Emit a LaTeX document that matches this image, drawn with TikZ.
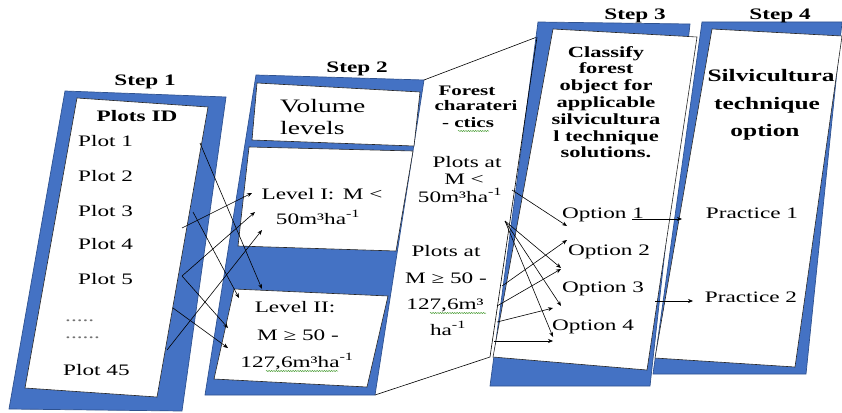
\documentclass[tikz,border=0pt]{standalone}
\usepackage{fontspec}
\setmainfont{Liberation Serif}[FakeStretch=1.45]
\usetikzlibrary{arrows.meta,decorations.pathmorphing}
\definecolor{stepblue}{RGB}{68,114,196}
\definecolor{stepedge}{RGB}{47,82,143}
\definecolor{spellgreen}{RGB}{80,160,60}

\begin{document}
\begin{tikzpicture}[x=1pt,y=-1pt,
    panel/.style={fill=stepblue,draw=stepedge,line width=0.7pt},
    sheet/.style={fill=white,draw=black!85,line width=0.6pt},
    head/.style={font=\fontsize{16}{18}\selectfont\bfseries,inner sep=0pt,anchor=base},
    item/.style={font=\fontsize{16}{18}\selectfont,inner sep=0pt,anchor=base},
    link/.style={-{Stealth[length=5pt,width=4pt]},line width=0.6pt},
    spell/.style={draw=spellgreen,line width=0.5pt,decorate,
      decoration={snake,amplitude=0.6pt,segment length=2.4pt}}]
\useasboundingbox (0,0) rectangle (842,412);

% step 1
\draw[panel] (65,91) -- (226,97) -- (182,411) -- (9,409) -- cycle;
\draw[sheet] (77,98) -- (208,107) -- (157,397) -- (25,388) -- cycle;
% step 2
\draw[panel] (256,75) -- (424,80) -- (375,395) -- (205,395) -- cycle;
\draw[sheet] (257,83) -- (420,92) -- (414,146) -- (252,140) -- cycle;
\draw[sheet] (249,147) -- (413,151) -- (396,251) -- (238,246) -- cycle;
\draw[sheet] (234,289) -- (388,296) -- (367,387) -- (214,379) -- cycle;
% zoom lines to step 3
\coordinate (s2tr) at (424,80);
\coordinate (s2br) at (375,395);
\coordinate (s3tl) at (537,37);
\coordinate (s3bl) at (490,357);
\draw[line width=0.6pt] (s2tr) -- (s3tl);
\draw[line width=0.6pt] (s2br) -- (s3bl);
% step 4
\draw[panel] (702,22) -- (842,22) -- (806,374) -- (653,374) -- cycle;
\draw[sheet] (712,29) -- (842,36) -- (795,367) -- (655,358) -- cycle;
% step 3
\draw[panel] (538,22) -- (690,24) -- (650,386) -- (490,386) -- cycle;
\draw[sheet] (553,29) -- (697,37) -- (647,370) -- (493,357) -- cycle;
\draw[line width=0.6pt] (s3tl) -- (s3bl);

% step labels
\node[head] (step1) at (145,85) {Step 1};
\node[head] (step2) at (357,72) {Step 2};
\node[head] (step3) at (635,20) {Step 3};
\node[head] (step4) at (780,20) {Step 4};

% plots
\node[head] (plotsid) at (137,121) {Plots ID};
\node[item,anchor=base west] (plot1) at (78,146) {Plot 1};
\node[item,anchor=base west] (plot2) at (78,181) {Plot 2};
\node[item,anchor=base west] (plot3) at (78,216) {Plot 3};
\node[item,anchor=base west] (plot4) at (78,249) {Plot 4};
\node[item,anchor=base west] (plot5) at (78,284) {Plot 5};
\node[item,anchor=base west,text=black!55] (dots1) at (65,321) {.....};
\node[item,anchor=base west,text=black!55] (dots2) at (65,338) {......};
\node[item,anchor=base west] (plot45) at (63,375) {Plot 45};

% volume levels
\node[item,anchor=base west,font=\fontsize{19}{21}\selectfont] (volume) at (280,112) {Volume};
\node[item,anchor=base west,font=\fontsize{19}{21}\selectfont] (levels) at (280,134) {levels};
\node[item] (lvone) at (322,199) {Level I:\, M <};
\node[item] (lvonev) at (318,224) {50m³ha\textsuperscript{-1}};
\node[item] (lvtwo) at (295,312) {Level II:};
\node[item] (lvtwom) at (298,340) {M ≥ 50 -};
\node[item] (lvtwov) at (297,367) {127,6m³ha\textsuperscript{-1}};
\draw[spell] (266,371) -- (338,371);

% forest characteristics
\node[head,font=\fontsize{14.5}{16}\selectfont\bfseries] (forest) at (467,95) {Forest};
\node[head,font=\fontsize{14.5}{16}\selectfont\bfseries] (charat) at (476,110) {charateri};
\node[head,font=\fontsize{14.5}{16}\selectfont\bfseries] (ctics) at (468,127) {- ctics};
\draw[spell] (458,131) -- (489,131);
\node[item] (lowat) at (467,167) {Plots at};
\node[item] (lowm) at (464,184) {M <};
\node[item] (lowv) at (460,202) {50m³ha\textsuperscript{-1}};
\node[item] (midat) at (446,256) {Plots at};
\node[item] (midm) at (446,283) {M ≥ 50 -};
\node[item] (midv) at (445,309) {127,6m³};
\draw[spell] (430,313) -- (486,313);
\node[item] (midha) at (448,335) {ha\textsuperscript{-1}};

% step 3 text
\node[head,font=\fontsize{15.5}{16.8}\selectfont\bfseries,align=center,anchor=north] (classify) at (606,46)
  {Classify\\forest\\object for\\applicable\\silvicultura\\l technique\\solutions.};
\node[item] (opt1) at (603,218) {Option 1};
\node[item] (opt2) at (609,255) {Option 2};
\node[item] (opt3) at (603,292) {Option 3};
\node[item] (opt4) at (593,330) {Option 4};

% step 4 text
\node[head,font=\fontsize{17.5}{19}\selectfont\bfseries] (silvi) at (771,81) {Silvicultura};
\node[head,font=\fontsize{17.5}{19}\selectfont\bfseries] (techn) at (767,109) {technique};
\node[head,font=\fontsize{17.5}{19}\selectfont\bfseries] (option) at (765,136) {option};
\node[item] (prac1) at (752,218) {Practice 1};
\node[item] (prac2) at (751,302) {Practice 2};

% plots to levels
\coordinate (fromp1) at (200,143);
\coordinate (fromp2) at (193,212);
\coordinate (fromp3) at (182,228);
\coordinate (fromp5) at (182,276);
\coordinate (fromdt) at (173,308);
\coordinate (fromp45) at (167,350);
\coordinate (toone1) at (252,193);
\coordinate (toone2) at (255,212);
\coordinate (toone3) at (262,230);
\coordinate (totwo1) at (262,289);
\coordinate (totwo2) at (239,298);
\coordinate (totwo3) at (228,328);
\coordinate (totwo4) at (228,348);
\draw[link] (fromp1) -- (totwo1);
\draw[link] (fromp2) -- (totwo2);
\draw[link] (fromp3) -- (toone1);
\draw[link] (fromp5) -- (toone2);
\draw[link] (fromp5) -- (totwo3);
\draw[link] (fromdt) -- (totwo4);
\draw[link] (fromp45) -- (toone3);

% characteristics to options
\coordinate (fromlow) at (512,190);
\coordinate (fromv) at (505,221);
\coordinate (frommid1) at (502,286);
\coordinate (frommid2) at (497,306);
\coordinate (frommid3) at (497,322);
\coordinate (frommid4) at (494,341);
\coordinate (too1) at (567,226);
\coordinate (too2) at (567,240);
\coordinate (too2b) at (561,268);
\coordinate (too3a) at (561,269);
\coordinate (too3) at (561,306);
\coordinate (too3b) at (553,308);
\coordinate (too4) at (553,337);
\coordinate (too4b) at (553,341);
\draw[link] (fromlow) -- (too1);
\draw[link] (fromv) -- (too2b);
\draw[link] (fromv) -- (too3);
\draw[link] (fromv) -- (too4);
\draw[link] (frommid1) -- (too2);
\draw[link] (frommid2) -- (too3a);
\draw[link] (frommid3) -- (too3b);
\draw[link] (frommid4) -- (too4b);

% options to practices
\coordinate (fromo1) at (632,219);
\coordinate (top1) at (682,219);
\coordinate (fromo3) at (655,301);
\coordinate (top2) at (693,301);
\draw[link] (fromo1) -- (top1);
\draw[link] (fromo3) -- (top2);
\end{tikzpicture}
\end{document}
